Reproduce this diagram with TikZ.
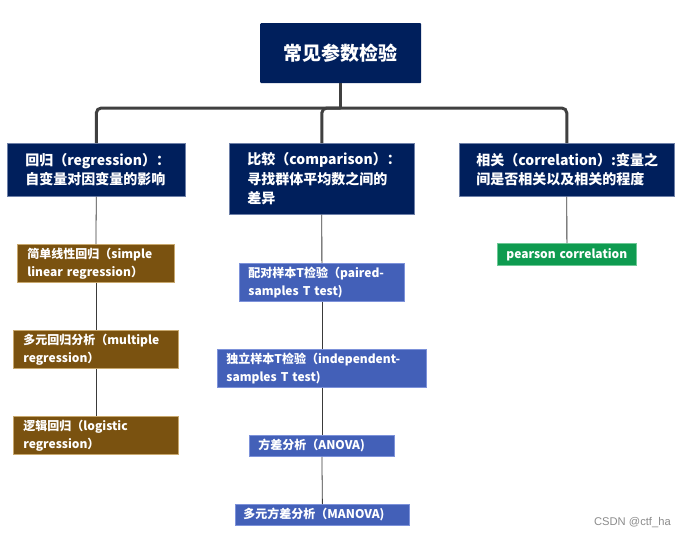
\documentclass[tikz,border=0pt]{standalone}
\usepackage{fontspec}
\setmainfont{Noto Sans CJK SC}
\newfontfamily\wmfont{Liberation Sans}
\definecolor{navy}{RGB}{0,31,92}
\definecolor{navyb}{RGB}{110,128,168}
\definecolor{brownf}{RGB}{122,82,16}
\definecolor{brownb}{RGB}{200,168,110}
\definecolor{bluef}{RGB}{67,96,184}
\definecolor{blueb}{RGB}{125,146,218}
\definecolor{greenf}{RGB}{14,155,80}
\definecolor{greenb}{RGB}{110,200,150}
\definecolor{conncol}{RGB}{64,64,64}
\begin{document}
\begin{tikzpicture}[x=1pt,y=-1pt,
  rootbox/.style={rectangle,fill=navy,rounded corners=1pt,text=white,font=\fontsize{19}{22}\selectfont\bfseries,minimum width=161pt,minimum height=60pt,inner sep=0pt,anchor=north west},
  lvbox/.style={rectangle,fill=navy,draw=navyb,line width=0.6pt,text=white,font=\fontsize{14}{19.5}\selectfont\bfseries,align=left,inner xsep=18pt,inner ysep=0pt,anchor=north west},
  chbox/.style={rectangle,line width=0.8pt,text=white,font=\fontsize{12}{18}\selectfont\bfseries,align=left,inner xsep=9pt,inner ysep=0pt,anchor=north west},
  brownbox/.style={chbox,fill=brownf,draw=brownb},
  bluebox/.style={chbox,fill=bluef,draw=blueb},
  greenbox/.style={chbox,fill=greenf,draw=greenb},
  conn/.style={draw=conncol,line width=3pt,rounded corners=5pt},
  thin/.style={draw=conncol!90!black,line width=0.8pt}
]
\useasboundingbox[fill=white] (0,0) rectangle (685,538);

\node[rootbox] (root) at (260,23) {常见参数检验};

\node[lvbox,text width=142pt,minimum height=53pt] (lb) at (7,143) {回归（regression）：\\自变量对因变量的影响};
\node[lvbox,text width=149pt,minimum height=71pt] (mb) at (229,143) {比较（comparison）：\\寻找群体平均数之间的\\差异};
\node[lvbox,text width=181pt,minimum height=53pt,inner xsep=17pt] (rb) at (459,143) {相关（correlation）:变量之\\间是否相关以及相关的程度};

\coordinate (bar) at (0,108);
\draw[conn] (lb.north) -- (lb.north |- bar) -- (rb.north |- bar) -- (rb.north);
\draw[conn] (root.south) -- (root.south |- bar);
\draw[conn] (root.south |- bar) -- (mb.north |- bar) -- (mb.north);

\node[brownbox,text width=137pt,minimum height=38pt,inner xsep=10pt] (b1) at (17,244) {简单线性回归（simple\\linear regression）};
\node[brownbox,text width=145pt,minimum height=38pt,inner xsep=10pt] (b2) at (13,330) {多元回归分析（multiple\\regression）};
\node[brownbox,text width=145pt,minimum height=38pt,inner xsep=10pt] (b3) at (13,416) {逻辑回归（logistic\\regression）};

\node[bluebox,text width=147pt,minimum height=38pt] (u1) at (239,263) {配对样本T检验（paired-\\samples T test)};
\node[bluebox,text width=191pt,minimum height=38pt] (u2) at (217,349) {独立样本T检验（independent-\\samples T test)};
\node[bluebox,text width=127pt,minimum height=21pt] (u3) at (249,435) {方差分析（ANOVA)};
\node[bluebox,text width=158pt,minimum height=21pt,inner xsep=8pt] (u4) at (235,504) {多元方差分析（MANOVA)};

\node[greenbox,text width=121pt,minimum height=22pt] (g1) at (497,243) {pearson correlation};

\draw[thin] (lb.south) -- (b1.north);
\draw[thin] (b1.south) -- (b2.north);
\draw[thin] (b2.south) -- (b3.north);
\draw[thin] (mb.south) -- (u1.north);
\draw[thin] (u1.south) -- (u2.north);
\draw[thin] (u2.south) -- (u3.north);
\draw[thin] (u3.south) -- (u4.north);
\draw[thin] (rb.south) -- (g1.north);

\node[anchor=east,text=black!45,font=\wmfont\fontsize{11.2}{13}\selectfont,inner sep=0pt] (wm) at (671,523) {CSDN @ctf\_ha};
\end{tikzpicture}
\end{document}
